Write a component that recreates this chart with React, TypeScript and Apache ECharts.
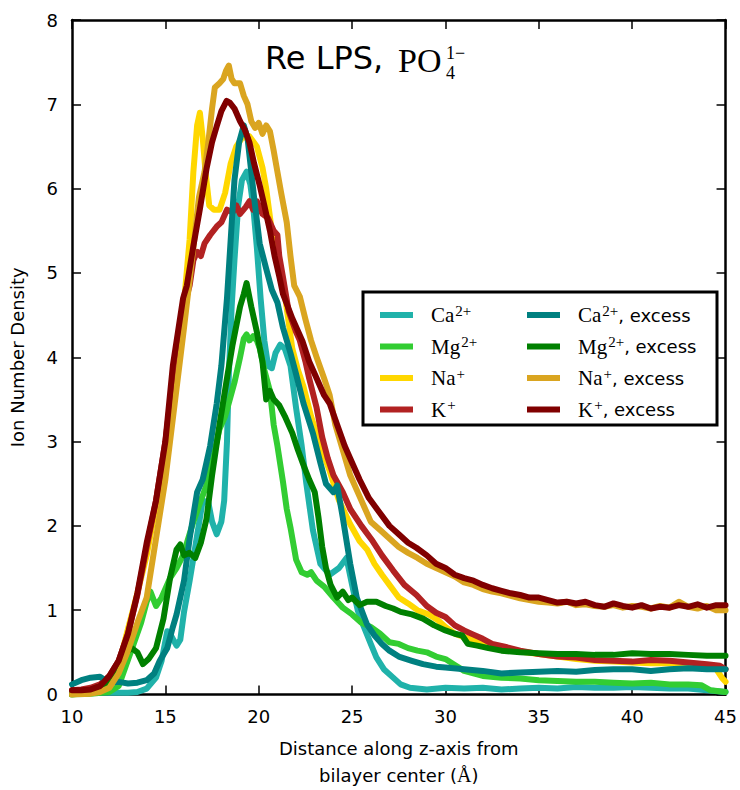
import React, { useEffect, useRef } from "react";
import * as echarts from "echarts";

// ---- data: [distance (Å), ion number density] ----
const caData = [
  [10, 0.03], [11, 0.03], [12, 0.02], [13, 0.02], [13.5, 0.03], [14, 0.07], [14.5, 0.2], [14.8, 0.4],
  [15.1, 0.75], [15.3, 0.7], [15.6, 0.58], [15.8, 0.65], [16, 0.98], [16.3, 1.35], [16.6, 1.75], [17.0, 2.3],
  [17.3, 2.28], [17.5, 2.05], [17.75, 1.9], [18.0, 2.05], [18.15, 2.3], [18.3, 3.0], [18.4, 3.8], [18.55, 4.6],
  [18.7, 5.15], [18.9, 5.8], [19.1, 6.1], [19.35, 6.2], [19.55, 6.05], [19.7, 5.8], [19.9, 5.3], [20.1, 4.7],
  [20.3, 4.2], [20.5, 3.9], [20.7, 3.87], [20.9, 4.05], [21.15, 4.15], [21.4, 4.1], [21.7, 3.9], [22.0, 3.4],
  [22.3, 2.95], [22.55, 2.5], [22.9, 1.95], [23.3, 1.55], [23.8, 1.42], [24.3, 1.5], [24.7, 1.62], [25.0, 1.3],
  [25.3, 1.0], [25.6, 0.82], [26.0, 0.6], [26.3, 0.44], [26.7, 0.3], [27.2, 0.2], [27.6, 0.12], [28.1, 0.08],
  [29, 0.06], [30, 0.08], [31, 0.07], [32, 0.08], [33, 0.06], [34, 0.07], [35, 0.08], [36, 0.07], [37, 0.09],
  [38, 0.08], [39, 0.08], [40, 0.09], [41, 0.08], [42, 0.07], [43, 0.07], [44, 0.05], [45, 0.03],
];

const mgData = [
  [10, 0.0], [11, 0.01], [12, 0.03], [12.5, 0.1], [12.9, 0.35], [13.3, 0.6], [13.7, 0.85], [14.0, 1.1],
  [14.2, 1.22], [14.5, 1.05], [14.8, 1.15], [15.25, 1.38], [15.6, 1.5], [15.95, 1.65], [16.5, 2.05], [16.9, 2.3],
  [17.2, 2.48], [17.55, 2.8], [17.9, 3.15], [18.2, 3.3], [18.45, 3.5], [18.7, 3.7], [19.0, 4.0], [19.2, 4.22],
  [19.35, 4.27], [19.5, 4.2], [19.7, 4.25], [19.9, 4.2], [20.06, 4.1], [20.3, 3.85], [20.6, 3.6], [20.8, 3.2],
  [21.0, 2.95], [21.3, 2.52], [21.5, 2.2], [21.7, 1.98], [22.0, 1.6], [22.3, 1.45], [22.6, 1.42], [22.8, 1.45],
  [23.1, 1.35], [23.5, 1.28], [24.0, 1.15], [24.5, 1.03], [25.0, 0.95], [25.5, 0.85], [26.0, 0.8], [26.5, 0.72],
  [27.0, 0.62], [27.5, 0.6], [28.0, 0.55], [28.5, 0.52], [29, 0.5], [29.5, 0.45], [30, 0.42], [30.5, 0.35],
  [31, 0.28], [31.5, 0.25], [32, 0.22], [33, 0.2], [34, 0.19], [35, 0.17], [36, 0.16], [37, 0.15], [38, 0.15],
  [39, 0.14], [40, 0.13], [41, 0.14], [42, 0.12], [43, 0.12], [43.7, 0.11], [44.2, 0.05], [45, 0.03],
];

const naData = [
  [10, 0.0], [11, 0.02], [11.5, 0.04], [12, 0.12], [12.5, 0.35], [13, 0.78], [13.5, 1.2], [14, 1.65],
  [14.5, 2.25], [15, 2.95], [15.5, 3.85], [16, 4.65], [16.3, 5.4], [16.5, 6.2], [16.7, 6.75], [16.85, 6.9],
  [17.0, 6.6], [17.15, 6.2], [17.35, 5.8], [17.6, 5.75], [17.9, 5.75], [18.2, 5.95], [18.5, 6.3], [18.8, 6.5],
  [19.1, 6.6], [19.5, 6.62], [19.9, 6.5], [20.2, 6.25], [20.4, 6.0], [20.7, 5.5], [21.0, 5.15], [21.3, 4.9],
  [21.55, 4.5], [21.8, 4.1], [22.1, 3.85], [22.4, 3.65], [22.8, 3.3], [23.3, 2.95], [23.8, 2.65], [24.3, 2.3],
  [24.9, 2.02], [25.4, 1.82], [25.8, 1.72], [26.2, 1.55], [26.6, 1.42], [27.0, 1.3], [27.5, 1.15], [28.0, 1.08],
  [28.5, 1.0], [29.1, 0.95], [29.6, 0.88], [30.0, 0.8], [30.5, 0.72], [31, 0.68], [31.5, 0.65], [32, 0.6],
  [33, 0.55], [34, 0.51], [35, 0.48], [36, 0.45], [37, 0.42], [38, 0.4], [39, 0.39], [40, 0.38], [41, 0.37],
  [42, 0.37], [43, 0.36], [44, 0.34], [44.5, 0.3], [44.8, 0.2], [45, 0.15],
];

const kData = [
  [10, 0.05], [10.5, 0.06], [11, 0.08], [11.5, 0.12], [12, 0.22], [12.5, 0.4], [13, 0.72], [13.5, 1.18],
  [14, 1.75], [14.5, 2.3], [15, 3.0], [15.5, 3.9], [16, 4.6], [16.3, 4.85], [16.5, 5.15], [16.7, 5.25],
  [16.9, 5.2], [17.1, 5.35], [17.4, 5.45], [17.75, 5.55], [18.0, 5.6], [18.3, 5.75], [18.6, 5.72], [18.8, 5.8],
  [19.0, 5.7], [19.3, 5.78], [19.5, 5.85], [19.7, 5.75], [19.9, 5.85], [20.2, 5.7], [20.5, 5.65], [20.8, 5.5],
  [21.0, 5.45], [21.1, 5.2], [21.3, 4.95], [21.6, 4.55], [22.0, 4.3], [22.2, 4.2], [22.5, 3.95], [22.7, 3.75],
  [23.1, 3.4], [23.4, 3.05], [23.7, 2.8], [24.0, 2.6], [24.5, 2.4], [24.9, 2.2], [25.5, 2.0], [26.1, 1.82],
  [26.6, 1.65], [27.2, 1.47], [27.8, 1.3], [28.45, 1.18], [29.0, 1.05], [29.5, 0.97], [30.0, 0.92], [30.5, 0.82],
  [31, 0.76], [31.5, 0.71], [32, 0.66], [32.5, 0.6], [33.3, 0.56], [34, 0.52], [35, 0.48], [36, 0.45],
  [37, 0.44], [38, 0.41], [39, 0.4], [40, 0.39], [41, 0.41], [42, 0.4], [43, 0.38], [44, 0.36], [44.7, 0.34],
  [45, 0.3],
];

const caExData = [
  [10, 0.12], [10.5, 0.17], [11, 0.2], [11.5, 0.21], [12, 0.14], [12.5, 0.15], [13, 0.13], [13.5, 0.14],
  [14, 0.17], [14.4, 0.25], [14.7, 0.4], [15.1, 0.55], [15.4, 0.8], [15.6, 0.95], [16.0, 1.35], [16.3, 1.85],
  [16.7, 2.4], [17.0, 2.55], [17.4, 2.95], [17.75, 3.45], [18.0, 3.9], [18.3, 4.7], [18.5, 5.4], [18.7, 6.1],
  [18.95, 6.55], [19.2, 6.75], [19.4, 6.6], [19.6, 6.2], [19.75, 5.9], [20.05, 5.35], [20.4, 5.05], [20.7, 4.8],
  [21.0, 4.65], [21.3, 4.35], [21.7, 4.05], [22.0, 3.8], [22.4, 3.45], [22.9, 3.1], [23.3, 2.75], [23.6, 2.5],
  [24.0, 2.4], [24.2, 2.48], [24.5, 2.1], [24.9, 1.55], [25.25, 1.15], [25.8, 0.83], [26.2, 0.7], [26.6, 0.6],
  [27.0, 0.52], [27.5, 0.45], [28.2, 0.4], [28.8, 0.36], [29.5, 0.33], [30, 0.32], [31, 0.3], [32, 0.28],
  [33, 0.25], [34, 0.26], [35, 0.27], [36, 0.28], [37, 0.27], [38, 0.29], [39, 0.3], [40, 0.3], [41, 0.28],
  [42, 0.3], [43, 0.31], [44, 0.3], [45, 0.3],
];

const mgExData = [
  [10, 0.0], [11, 0.03], [11.3, 0.08], [12.0, 0.12], [12.3, 0.22], [12.6, 0.36], [12.9, 0.5], [13.2, 0.55],
  [13.5, 0.5], [13.8, 0.36], [14.1, 0.42], [14.5, 0.55], [14.9, 0.9], [15.25, 1.38], [15.6, 1.72], [15.8, 1.78],
  [16.0, 1.65], [16.3, 1.68], [16.6, 1.62], [16.9, 1.8], [17.2, 2.08], [17.5, 2.6], [17.9, 3.2], [18.3, 3.75],
  [18.6, 4.15], [19.0, 4.6], [19.2, 4.75], [19.35, 4.88], [19.6, 4.6], [19.9, 4.3], [20.2, 3.95], [20.4, 3.5],
  [20.6, 3.6], [20.8, 3.5], [21.1, 3.43], [21.4, 3.3], [21.8, 3.1], [22.1, 2.9], [22.4, 2.72], [22.7, 2.55],
  [23.0, 2.4], [23.2, 2.1], [23.4, 1.75], [23.6, 1.5], [23.85, 1.3], [24.2, 1.15], [24.5, 1.22], [24.8, 1.12],
  [25.0, 1.15], [25.4, 1.06], [25.8, 1.1], [26.3, 1.1], [26.8, 1.05], [27.2, 1.02], [27.6, 0.98], [28.2, 0.95],
  [28.8, 0.9], [29.4, 0.82], [30, 0.76], [30.5, 0.72], [30.9, 0.7], [31.2, 0.6], [31.7, 0.58], [32.3, 0.55],
  [33, 0.52], [34, 0.5], [35, 0.49], [36, 0.48], [37, 0.48], [38, 0.47], [39, 0.47], [40, 0.49], [41, 0.48],
  [42, 0.48], [43, 0.47], [44, 0.46], [45, 0.46],
];

const naExData = [
  [10, 0.0], [11, 0.01], [11.5, 0.03], [12, 0.08], [12.5, 0.25], [13, 0.52], [13.5, 0.85], [14, 1.15],
  [14.5, 1.85], [15, 2.55], [15.5, 3.45], [16, 4.35], [16.5, 5.3], [16.8, 5.9], [17.1, 6.2], [17.3, 6.55],
  [17.5, 6.95], [17.65, 7.2], [17.9, 7.25], [18.1, 7.3], [18.25, 7.4], [18.4, 7.46], [18.55, 7.3], [18.7, 7.25],
  [19.0, 7.25], [19.2, 7.1], [19.4, 7.0], [19.6, 6.8], [19.8, 6.72], [20.0, 6.78], [20.2, 6.65], [20.4, 6.75],
  [20.6, 6.68], [20.8, 6.45], [21.0, 6.2], [21.2, 5.95], [21.5, 5.6], [21.7, 5.2], [21.9, 4.85], [22.2, 4.72],
  [22.5, 4.45], [22.8, 4.2], [23.1, 4.0], [23.5, 3.75], [23.8, 3.55], [24.1, 3.2], [24.5, 2.9], [24.9, 2.6],
  [25.4, 2.35], [26.0, 2.05], [26.5, 1.95], [27.0, 1.85], [27.5, 1.75], [28.0, 1.68], [28.5, 1.62], [29.0, 1.55],
  [29.5, 1.5], [30, 1.45], [30.5, 1.4], [31, 1.33], [31.5, 1.3], [32, 1.25], [32.5, 1.22], [33, 1.2],
  [33.5, 1.17], [34, 1.14], [34.5, 1.12], [35, 1.1], [35.5, 1.09], [36, 1.08], [36.5, 1.1], [37, 1.06],
  [37.5, 1.07], [38, 1.05], [38.5, 1.04], [39, 1.06], [39.5, 1.03], [40, 1.05], [40.5, 1.04], [41, 1.02],
  [41.5, 1.05], [42, 1.03], [42.5, 1.1], [43, 1.04], [43.5, 1.02], [44, 1.05], [44.5, 1.0], [45, 1.0],
];

const kExData = [
  [10, 0.05], [10.5, 0.05], [11, 0.06], [11.5, 0.1], [12, 0.22], [12.5, 0.4], [13, 0.72], [13.5, 1.2],
  [14, 1.8], [14.5, 2.3], [15, 3.0], [15.4, 3.9], [15.95, 4.7], [16.15, 4.85], [16.5, 5.32], [16.85, 5.76],
  [17.2, 6.23], [17.5, 6.55], [17.75, 6.74], [18.0, 6.92], [18.28, 7.04], [18.45, 7.02], [18.7, 6.95], [19.0, 6.8],
  [19.25, 6.7], [19.5, 6.55], [19.75, 6.3], [20.06, 6.03], [20.3, 5.8], [20.6, 5.5], [20.85, 5.2], [21.1, 4.96],
  [21.3, 4.75], [21.8, 4.46], [22.36, 4.18], [22.7, 3.95], [23.1, 3.75], [23.5, 3.55], [23.8, 3.45], [24.2, 3.2],
  [24.6, 2.95], [24.9, 2.8], [25.4, 2.55], [25.9, 2.33], [26.4, 2.18], [27.0, 2.0], [27.5, 1.9], [28.0, 1.8],
  [28.44, 1.74], [29.0, 1.65], [29.5, 1.55], [30.0, 1.5], [30.5, 1.42], [31, 1.38], [31.5, 1.35], [32, 1.3],
  [32.5, 1.26], [33, 1.23], [33.5, 1.2], [34, 1.18], [34.5, 1.15], [35, 1.15], [35.5, 1.12], [36, 1.09],
  [36.5, 1.1], [37, 1.08], [37.5, 1.1], [38, 1.06], [38.5, 1.04], [39, 1.08], [39.5, 1.05], [40, 1.03],
  [40.5, 1.06], [41, 1.02], [41.5, 1.04], [42, 1.03], [42.5, 1.06], [43, 1.04], [43.5, 1.07], [44, 1.03],
  [44.5, 1.06], [45, 1.06],
];

const SERIES_NAMES = [
  "Ca2+", "Mg2+", "Na+", "K+",
  "Ca2+, excess", "Mg2+, excess", "Na+, excess", "K+, excess",
];
const SERIES_COLORS = [
  "#20B2AA", "#32CD32", "#FFD700", "#B22222",
  "#008080", "#008000", "#DAA520", "#800000",
];
const SERIES_DATA = [caData, mgData, naData, kData, caExData, mgExData, naExData, kExData];

const X_MIN = 10, X_MAX = 45, X_STEP = 5;
const Y_MIN = 0, Y_MAX = 8, Y_STEP = 1;

const SANS = "'DejaVu Sans', 'Bitstream Vera Sans', sans-serif";
const SERIF = "'Liberation Serif', 'DejaVu Serif', serif";

function legendLabel(name: string): string {
  const m = name.match(/^([A-Za-z]+)(\d?\+)(, excess)?$/);
  if (!m) return name;
  return `{s|${m[1]}}{p|${m[2]}}` + (m[3] ? `{t|, excess}` : "");
}

export default function App() {
  const ref = useRef<HTMLDivElement>(null);

  useEffect(() => {
    if (!ref.current) return;
    const chart = echarts.init(ref.current, null, { renderer: "svg" });

    const axisLine = { show: true, onZero: false, lineStyle: { color: "#000", width: 2.5 } };
    const axisTick = { show: true, inside: true, length: 9, lineStyle: { color: "#000", width: 1.5 } };

    const richLegend = {
      s: { fontFamily: SERIF, fontSize: 21, color: "#000", lineHeight: 24 },
      p: { fontFamily: SERIF, fontSize: 15, color: "#000", verticalAlign: "top", lineHeight: 14, padding: [0, 0, 0, 1] },
      t: { fontFamily: SANS, fontSize: 18, color: "#000", lineHeight: 24 },
    };

    const legendBase = {
      orient: "vertical",
      icon: "rect",
      itemWidth: 33,
      itemHeight: 6,
      itemGap: 9,
      z: 5,
      selectedMode: false,
      formatter: legendLabel,
      textStyle: { padding: [0, 0, 0, 13], rich: richLegend },
    };

    const option: any = {
      animation: false,
      backgroundColor: "#fff",
      grid: { left: 72, right: 14, top: 20, bottom: 93, containLabel: false },
      xAxis: [
        {
          type: "value", min: X_MIN, max: X_MAX, interval: X_STEP, position: "bottom",
          axisLine, axisTick, splitLine: { show: false },
          axisLabel: { fontFamily: SANS, fontSize: 18, color: "#000", margin: 13 },
          name: "{a|Distance along z-axis from}\n{a|bilayer center (}{b|Å}{a|)}",
          nameLocation: "middle",
          nameGap: 40,
          nameTextStyle: {
            rich: {
              a: { fontFamily: SANS, fontSize: 18, color: "#000", lineHeight: 27 },
              b: { fontFamily: SERIF, fontSize: 20, color: "#000", lineHeight: 27 },
            },
          },
        },
        {
          type: "value", min: X_MIN, max: X_MAX, interval: X_STEP, position: "top",
          axisLine, axisTick, splitLine: { show: false }, axisLabel: { show: false },
        },
      ],
      yAxis: [
        {
          type: "value", min: Y_MIN, max: Y_MAX, interval: Y_STEP, position: "left",
          axisLine, axisTick, splitLine: { show: false },
          axisLabel: { fontFamily: SANS, fontSize: 18, color: "#000", margin: 14 },
          name: "Ion Number Density",
          nameLocation: "middle",
          nameRotate: 90,
          nameGap: 46,
          nameTextStyle: { fontFamily: SANS, fontSize: 18, color: "#000" },
        },
        {
          type: "value", min: Y_MIN, max: Y_MAX, interval: Y_STEP, position: "right",
          axisLine, axisTick, splitLine: { show: false }, axisLabel: { show: false },
        },
      ],
      legend: [
        { ...legendBase, left: 375, top: 298, data: SERIES_NAMES.slice(0, 4) },
        { ...legendBase, left: 522, top: 298, data: SERIES_NAMES.slice(4) },
      ],
      graphic: [
        {
          type: "rect", z: 4, silent: true,
          shape: { x: 363, y: 292, width: 354, height: 133 },
          style: { fill: "#fff", stroke: "#000", lineWidth: 3 },
        },
        {
          type: "text", z: 6, x: 265, y: 74,
          style: { text: "Re LPS,", fontFamily: SANS, fontSize: 32, fill: "#000", verticalAlign: "bottom" },
        },
        {
          type: "text", z: 6, x: 398, y: 77,
          style: { text: "PO", fontFamily: SERIF, fontSize: 34, fill: "#000", verticalAlign: "bottom" },
        },
        {
          type: "text", z: 6, x: 446, y: 62,
          style: { text: "1−", fontFamily: SERIF, fontSize: 18, fill: "#000", verticalAlign: "bottom" },
        },
        {
          type: "text", z: 6, x: 446, y: 82,
          style: { text: "4", fontFamily: SERIF, fontSize: 18, fill: "#000", verticalAlign: "bottom" },
        },
      ],
      series: SERIES_NAMES.map((name, i) => ({
        name,
        type: "line",
        xAxisIndex: 0,
        yAxisIndex: 0,
        data: SERIES_DATA[i],
        showSymbol: false,
        symbol: "none",
        color: SERIES_COLORS[i],
        lineStyle: { width: 6, color: SERIES_COLORS[i], join: "round", cap: "round" },
        z: 2,
      })),
    };

    chart.setOption(option);
    return () => chart.dispose();
  }, []);

  return (
    <div
      ref={ref}
      style={{ position: "fixed", left: 0, top: 0, width: 740, height: 790, background: "#fff" }}
    />
  );
}
